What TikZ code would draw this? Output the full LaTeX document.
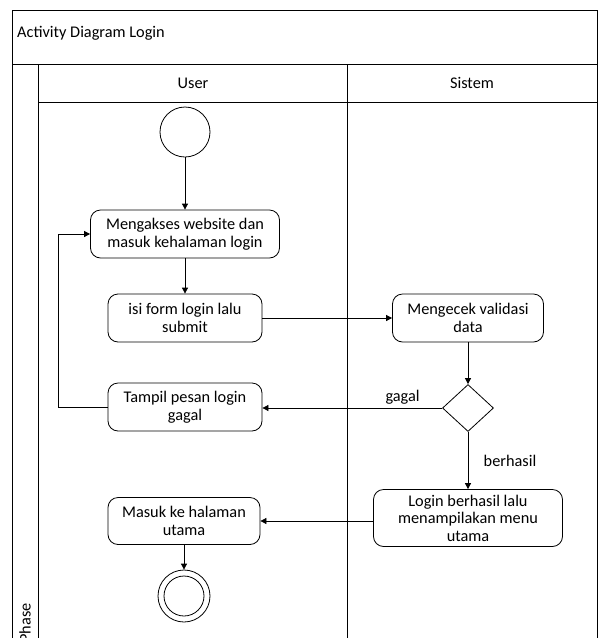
\documentclass[tikz,border=0pt]{standalone}
\usepackage{fontspec}
\setmainfont{Carlito}
\usetikzlibrary{arrows.meta,shapes.geometric}
\begin{document}
\begin{tikzpicture}[x=1pt,y=-1pt,
  txt/.style={font=\fontsize{16.3}{17.5}\selectfont},
  act/.style={draw, line width=0.8pt, rounded corners=10pt, align=center, inner sep=0pt, txt},
  arr/.style={-{Triangle[length=6pt,width=6pt]}, line width=0.8pt},
  frameline/.style={line width=0.9pt}]
\useasboundingbox (0,0) rectangle (605,638);
\fill[white] (0,0) rectangle (605,638);
\clip (0,0) rectangle (605,638);
% pool frame
\draw[frameline] (12,10) rectangle (597,680);
\draw[frameline] (12,64) -- (597,64);
\draw[frameline] (38,102) -- (597,102);
\draw[frameline] (38,64) -- (38,680);
\draw[frameline] (347,64) -- (347,680);
\node[txt, anchor=west, inner sep=0pt] (title) at (17,33) {Activity Diagram Login};
\node[txt] (user) at (193,83) {User};
\node[txt] (sistem) at (472,83) {Sistem};
\node[txt, rotate=90, anchor=east, inner sep=0pt] (phase) at (25,603) {Phase};
% nodes
\node[draw, line width=0.8pt, circle, minimum size=50pt, inner sep=0pt] (start) at (185,132) {};
\node[act, minimum width=189pt, minimum height=48pt] (akses) at (185,234) {Mengakses website dan\\masuk kehalaman login};
\node[act, minimum width=154pt, minimum height=48pt] (isi) at (185,318) {isi form login lalu\\submit};
\node[act, minimum width=151pt, minimum height=48pt] (cek) at (468,318) {Mengecek validasi\\data};
\node[draw, line width=0.8pt, diamond, minimum width=51pt, minimum height=47pt, inner sep=0pt] (dec) at (468,408) {};
\node[act, minimum width=154pt, minimum height=48pt] (tampil) at (185,407) {Tampil pesan login\\gagal};
\node[act, minimum width=189pt, minimum height=57pt] (berhasil) at (468,518) {Login berhasil lalu\\menampilakan menu\\utama};
\node[act, minimum width=152pt, minimum height=47pt] (masuk) at (184,521) {Masuk ke halaman\\utama};
\node[draw, line width=0.8pt, circle, minimum size=52pt, inner sep=0pt] (end) at (184,596) {};
\node[draw, line width=0.8pt, circle, minimum size=40pt, inner sep=0pt] (endin) at (184,596) {};
% connectors
\draw[arr] (start) -- (akses);
\draw[arr] (akses) -- (isi);
\draw[arr] (isi) -- (cek);
\draw[arr] (cek) -- (dec);
\draw[arr] (dec.west) -- node[txt, above, pos=0.22] (lgagal) {gagal} (dec.west -| tampil.east);
\draw[arr] (dec) -- node[txt, right, pos=0.5, xshift=12pt] (lberhasil) {berhasil} (berhasil);
\draw[arr] (tampil.west) -- (58,407) -- (58,234) -- (akses.west);
\draw[arr] (berhasil.west |- masuk.east) -- (masuk.east);
\draw[arr] (masuk) -- (end);
\end{tikzpicture}
\end{document}
